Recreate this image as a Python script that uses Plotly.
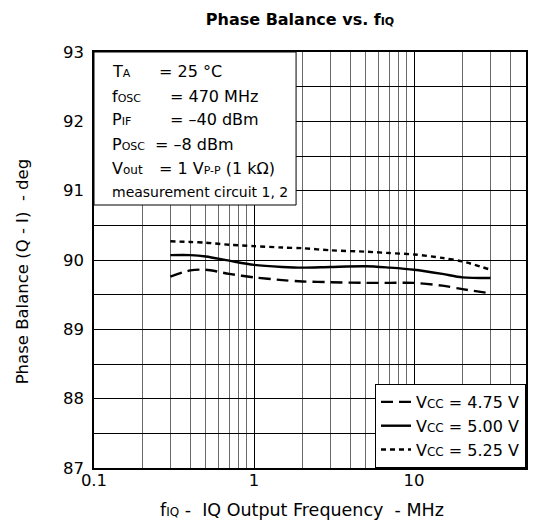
import plotly.graph_objects as go

# Measured phase balance (Q - I) versus IQ output frequency
freq_mhz = [0.3, 0.4, 0.5, 0.7, 1, 1.5, 2, 3, 5, 7, 10, 15, 20, 30]
phase_475 = [89.76, 89.85, 89.86, 89.80, 89.75, 89.71, 89.69, 89.68, 89.67, 89.67, 89.67, 89.63, 89.58, 89.52]
phase_500 = [90.07, 90.07, 90.05, 89.99, 89.93, 89.90, 89.89, 89.90, 89.91, 89.89, 89.86, 89.80, 89.75, 89.74]
phase_525 = [90.27, 90.26, 90.25, 90.22, 90.20, 90.18, 90.17, 90.14, 90.12, 90.10, 90.08, 90.03, 89.98, 89.86]

series_names = ["V<span style='font-size:12px'>CC</span> = 4.75 V",
                "V<span style='font-size:12px'>CC</span> = 5.00 V",
                "V<span style='font-size:12px'>CC</span> = 5.25 V"]
series_dash = ["12px,6px", "solid", "5px,4px"]

x_tick_vals = [0.1, 1, 10]
x_tick_text = ["0.1", "1", "10"]

FONT = "DejaVu Sans, Liberation Sans, sans-serif"
W, H = 539, 525
L, R, T, B = 94, 528, 52, 468


def px(x):
    return (x - L) / (R - L)


def py(y):
    return (B - y) / (B - T)


def small(s, size=11):
    return f"<span style='font-size:{size}px'>{s}</span>"


fig = go.Figure()
for name, ys, dash in zip(series_names, [phase_475, phase_500, phase_525], series_dash):
    fig.add_trace(go.Scatter(
        x=freq_mhz, y=ys, mode="lines", name=name,
        line=dict(color="black", width=2.4, dash=dash, shape="spline", smoothing=0.8),
    ))

# Condition box in the upper-left corner
fig.add_shape(type="rect", xref="paper", yref="paper",
              x0=px(L), x1=px(297), y0=py(205), y1=py(T),
              line=dict(color="black", width=1), fillcolor="white", layer="above")

cond_rows = [
    ("T" + small("A"), "= 25 °C", 71.5, 157),
    ("f" + small("OSC"), "= 470 MHz", 96.5, 168),
    ("P" + small("IF"), "= –40 dBm", 120, 168),
    ("P" + small("OSC"), "= –8 dBm", 144, 153),
    ("V" + small("out", 12), "= 1 V" + small("P-P") + " (1 kΩ)", 168, 157),
]
annotations = []
for lab, val, yc, xv in cond_rows:
    annotations.append(dict(text=lab, x=px(110), y=py(yc), xref="paper", yref="paper",
                            xanchor="left", yanchor="middle", showarrow=False,
                            font=dict(size=16, family=FONT, color="black")))
    annotations.append(dict(text=val, x=px(xv), y=py(yc), xref="paper", yref="paper",
                            xanchor="left", yanchor="middle", showarrow=False,
                            font=dict(size=16, family=FONT, color="black")))
annotations.append(dict(text="measurement circuit 1, 2", x=px(110), y=py(191.5),
                        xref="paper", yref="paper", xanchor="left", yanchor="middle",
                        showarrow=False, font=dict(size=14, family=FONT, color="black")))

# Axis titles
annotations.append(dict(text="f" + small("IQ", 12) + " -  IQ Output Frequency  - MHz",
                        x=px(303), y=py(510), xref="paper", yref="paper",
                        xanchor="center", yanchor="middle", showarrow=False,
                        font=dict(size=17.5, family=FONT, color="black")))
annotations.append(dict(text="Phase Balance (Q - I)  - deg",
                        x=px(22), y=py(271), xref="paper", yref="paper", textangle=-90,
                        xanchor="center", yanchor="middle", showarrow=False,
                        font=dict(size=16.5, family=FONT, color="black")))

fig.update_layout(
    width=W, height=H,
    margin=dict(l=L, r=W - R, t=T, b=H - B),
    paper_bgcolor="white", plot_bgcolor="white",
    font=dict(family=FONT, color="black", size=16),
    title=dict(text="<b>Phase Balance vs. f" + small("IQ", 11) + "</b>",
               x=300 / W, xanchor="center", y=1 - 19 / H, yanchor="middle",
               font=dict(size=16, family=FONT, color="black")),
    showlegend=True,
    legend=dict(x=1, y=0, xanchor="right", yanchor="bottom",
                bgcolor="white", bordercolor="black", borderwidth=1,
                font=dict(size=16, family=FONT, color="black"),
                traceorder="normal", tracegroupgap=0),
    annotations=annotations,
)

fig.update_xaxes(
    type="log", range=[-1, 1.69897],
    tickvals=x_tick_vals, ticktext=x_tick_text, ticks="",
    ticklabelstandoff=-4, tickfont=dict(size=16.5),
    showgrid=True, gridcolor="black", gridwidth=1,
    minor=dict(dtick="D1", showgrid=True, gridcolor="#6a6a6a", gridwidth=1, ticks=""),
    showline=True, mirror=True, linecolor="black", linewidth=1.5,
    zeroline=False,
)
fig.update_yaxes(
    range=[87, 93], dtick=1, ticks="",
    ticklabelstandoff=5, tickfont=dict(size=16.5),
    showgrid=True, gridcolor="black", gridwidth=1,
    minor=dict(dtick=0.5, showgrid=True, gridcolor="black", gridwidth=1, ticks=""),
    showline=True, mirror=True, linecolor="black", linewidth=1.5,
    zeroline=False,
)

fig.write_html("out.html")
